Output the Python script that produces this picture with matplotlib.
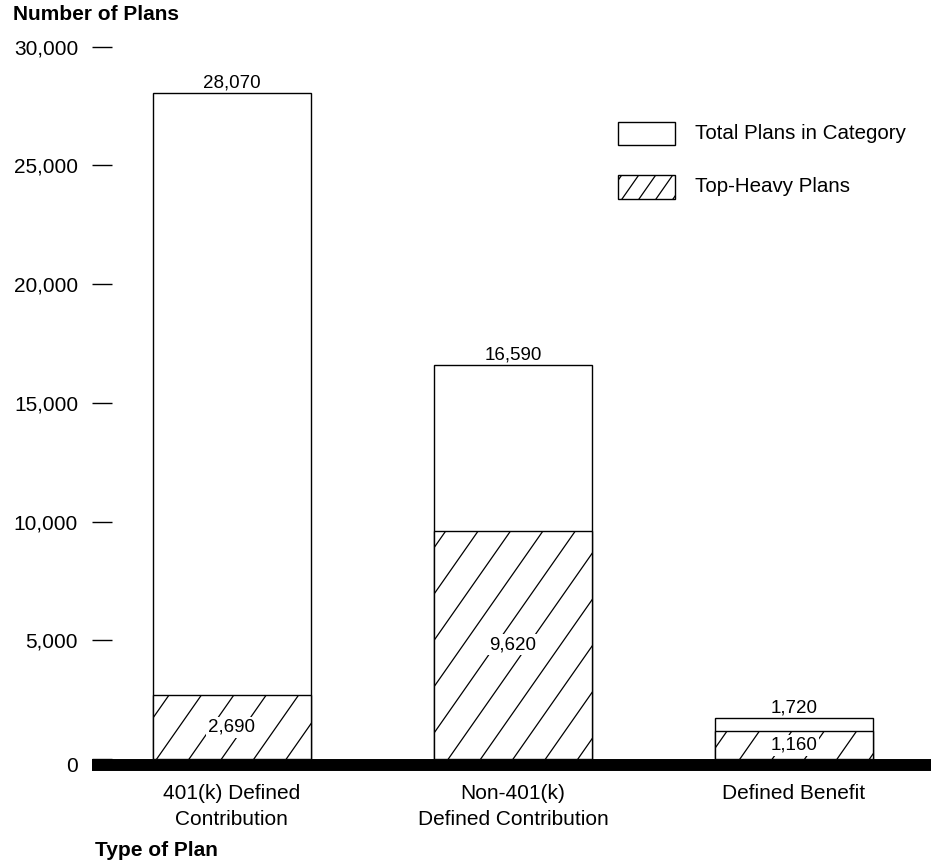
import matplotlib
matplotlib.use('Agg')
import matplotlib.pyplot as plt
from matplotlib.patches import Rectangle
from matplotlib.lines import Line2D
from matplotlib.transforms import IdentityTransform, offset_copy
import numpy as np

plt.rcParams['font.family'] = ['Liberation Sans', 'DejaVu Sans']

# data
categories = ['401(k) Defined\nContribution', 'Non-401(k)\nDefined Contribution', 'Defined Benefit']
total_plans = [28070, 16590, 1720]
top_heavy = [2690, 9620, 1160]
y_ticks = [0, 5000, 10000, 15000, 20000, 25000, 30000]

W, H = 931, 865
fig = plt.figure(figsize=(W / 100, H / 100), dpi=100)
ax = fig.add_axes([92 / W, 106 / H, 839 / W, 712.3 / H])
ax.set_xlim(-0.498, 2.488)
ax.set_ylim(0, 30000)
for s in ax.spines.values():
    s.set_visible(False)


def hatch(patch, spacing, x0, target, slope=1.43, lw=0.9):
    # slanted hatch lines drawn in pixel space, clipped to the patch
    ext = patch.get_window_extent()
    run = ext.height / slope
    k0 = np.floor((ext.x0 - run - x0) / spacing)
    xb = x0 + k0 * spacing
    while xb <= ext.x1:
        ln = Line2D([xb, xb + run], [ext.y0, ext.y1], transform=IdentityTransform(),
                    color='black', lw=lw, zorder=3)
        target.add_artist(ln)
        ln.set_clip_path(patch)  # after add_artist, otherwise it gets reset
        xb += spacing


x = np.arange(len(categories))
bw = 0.562
ax.bar(x, total_plans, bw, color='white', edgecolor='black', linewidth=1, zorder=2)
hb = ax.bar(x, top_heavy, bw, color='white', edgecolor='black', linewidth=1, zorder=2)
for p in hb:
    hatch(p, 32.4, 156.7, ax)

for xi, v in zip(x, total_plans):
    ax.annotate(f'{v:,}', (xi, v), xytext=(0, 1), textcoords='offset points',
                ha='center', va='bottom', fontsize=13.5)
for xi, v in zip(x, top_heavy):
    ax.text(xi, v / 2, f'{v:,}', ha='center', va='center', fontsize=13.5, zorder=4,
            bbox=dict(facecolor='white', edgecolor='none', pad=1.5))

# thick baseline
base_tr = offset_copy(ax.transData, fig=fig, x=0, y=-5.5, units='dots')
ax.add_line(Line2D([-0.498, 2.488], [0, 0], transform=base_tr, color='black',
                   lw=8.6, solid_capstyle='butt', clip_on=False, zorder=5))

ax.set_yticks(y_ticks, [f'{t:,}' for t in y_ticks])
ax.tick_params(axis='y', direction='in', length=14.4, width=1, pad=10, labelsize=15)
zero_lbl = ax.get_yticklabels()[0]
zero_lbl.set_transform(zero_lbl.get_transform() + offset_copy(IdentityTransform(), fig=fig, y=-6, units='dots'))
ax.set_xticks(x, categories)
ax.tick_params(axis='x', length=0, pad=18, labelsize=15)
for lbl in ax.get_xticklabels():
    lbl.set_linespacing(1.45)

fig.text(13 / W, 1 - 14 / H, 'Number of Plans', fontweight='bold', fontsize=15, va='center')
fig.text(95 / W, 1 - 850 / H, 'Type of Plan', fontweight='bold', fontsize=15, va='center')

# legend
r1 = Rectangle((618 / W, 1 - 145 / H), 57 / W, 23 / H, transform=fig.transFigure,
               facecolor='white', edgecolor='black', lw=1)
r2 = Rectangle((618 / W, 1 - 199 / H), 57 / W, 24 / H, transform=fig.transFigure,
               facecolor='white', edgecolor='black', lw=1)
fig.add_artist(r1)
fig.add_artist(r2)
hatch(r2, 17, 622, fig)
fig.text(695 / W, 1 - 133.5 / H, 'Total Plans in Category', fontsize=14.8, va='center')
fig.text(695 / W, 1 - 187 / H, 'Top-Heavy Plans', fontsize=14.8, va='center')

fig.savefig('out.png', dpi=100)
